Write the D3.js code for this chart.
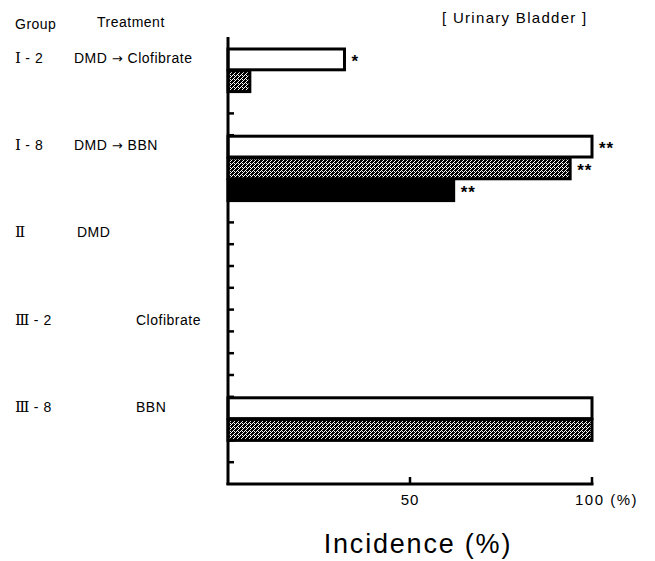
<!DOCTYPE html>
<html>
<head>
<meta charset="utf-8">
<script src="https://cdnjs.cloudflare.com/ajax/libs/d3/7.8.5/d3.min.js"></script>
<style>
  body { margin: 0; background: #fff; }
  svg { font-family: "Liberation Sans", Arial, sans-serif; }
</style>
</head>
<body>
<script>
// ----- data -----
const groupNum = ['Ⅰ', 'Ⅰ', 'Ⅱ', 'Ⅲ', 'Ⅲ'];
const groupSub = [' - 2', ' - 8', '', ' - 2', ' - 8'];
const treatments = ['DMD → Clofibrate', 'DMD → BBN', 'DMD', 'Clofibrate', 'BBN'];
const whiteVals = [32, 100, 0, 0, 100];
const greyVals  = [6, 94, 0, 0, 100];
const blackVals = [0, 62, 0, 0, 0];
const whiteSig = ['*', '**', '', '', ''];
const greySig  = ['', '**', '', '', ''];
const blackSig = ['', '**', '', '', ''];
const xTicks = [50, 100];

document.addEventListener('DOMContentLoaded', () => {
  const svg = d3.select('body').append('svg')
    .attr('width', 655).attr('height', 561);

  // grey dither pattern
  const pat = svg.append('defs').append('pattern')
    .attr('id', 'dither').attr('width', 4).attr('height', 4)
    .attr('patternUnits', 'userSpaceOnUse');
  pat.append('rect').attr('width', 4).attr('height', 4).attr('fill', '#fff');
  [[0,0],[2,0],[1,1],[3,1],[0,2],[2,2],[1,3],[3,3],[1,0],[3,2],[0,1]].forEach(p => {
    pat.append('rect').attr('x', p[0]).attr('y', p[1]).attr('width', 1).attr('height', 1).attr('fill', '#000');
  });

  const x = d3.scaleLinear().domain([0, 100]).range([228, 592]);
  const rows = d3.range(20);
  const y = d3.scaleBand().domain(rows).range([48, 484]).padding(0);
  const bw = y.bandwidth();

  const series = [
    { vals: whiteVals, sig: whiteSig, fill: '#fff', off: 0 },
    { vals: greyVals, sig: greySig, fill: 'url(#dither)', off: 1 },
    { vals: blackVals, sig: blackSig, fill: '#000', off: 2 }
  ];

  // ticks on left axis at row boundaries (bars cover some of them)
  svg.append('g').selectAll('line')
    .data(rows.slice(1))
    .join('line')
    .attr('x1', x(0)).attr('x2', x(0) + 6)
    .attr('y1', d => y(d)).attr('y2', d => y(d))
    .attr('stroke', '#000').attr('stroke-width', 2.5);

  // ----- bars -----
  series.forEach(s => {
    const items = groupNum.map((g, i) => ({ i, v: s.vals[i], sig: s.sig[i] })).filter(d => d.v > 0);
    svg.append('g').selectAll('rect')
      .data(items)
      .join('rect')
      .attr('x', x(0))
      .attr('y', d => y(d.i * 4 + s.off) + 1)
      .attr('width', d => x(d.v) - x(0))
      .attr('height', bw - 1)
      .attr('fill', s.fill)
      .attr('stroke', '#000')
      .attr('stroke-width', 3);
    svg.append('g').selectAll('text')
      .data(items.filter(d => d.sig))
      .join('text')
      .attr('x', d => x(d.v) + 7)
      .attr('y', d => y(d.i * 4 + s.off) + bw / 2 + 8)
      .attr('font-size', 17)
      .attr('font-weight', 'bold')
      .attr('letter-spacing', 1)
      .text(d => d.sig);
  });

  // ----- axes -----
  svg.append('line')
    .attr('x1', x(0)).attr('x2', x(0))
    .attr('y1', 37).attr('y2', 485)
    .attr('stroke', '#000').attr('stroke-width', 3);
  svg.append('line')
    .attr('x1', x(0) - 1.5).attr('x2', x(100) + 1.5)
    .attr('y1', 484).attr('y2', 484)
    .attr('stroke', '#000').attr('stroke-width', 3);
  svg.append('g').selectAll('line')
    .data(xTicks)
    .join('line')
    .attr('x1', d => x(d)).attr('x2', d => x(d))
    .attr('y1', 484).attr('y2', 477)
    .attr('stroke', '#000').attr('stroke-width', 2.5);
  svg.append('text').attr('x', x(50)).attr('y', 505)
    .attr('text-anchor', 'middle').attr('font-size', 15).attr('letter-spacing', 1).text('50');
  svg.append('text').attr('x', x(100) - 17).attr('y', 505)
    .attr('font-size', 15).attr('letter-spacing', 1.5).text('100 (%)');

  svg.append('text').attr('x', 418).attr('y', 553)
    .attr('text-anchor', 'middle').attr('font-size', 27).attr('letter-spacing', 1.8)
    .text('Incidence (%)');

  // ----- labels -----
  svg.append('text').attr('x', 15).attr('y', 29).attr('font-size', 14).attr('letter-spacing', 0.5).text('Group');
  svg.append('text').attr('x', 97).attr('y', 27).attr('font-size', 14).attr('letter-spacing', 0.5).text('Treatment');
  svg.append('text').attr('x', 442).attr('y', 23).attr('font-size', 15).attr('letter-spacing', 1.3).text('[ Urinary Bladder ]');

  const gl = svg.append('g').selectAll('text')
    .data(groupNum)
    .join('text')
    .attr('x', 15)
    .attr('y', (d, i) => y(i * 4) + bw / 2 + 4)
    .attr('font-size', 14);
  gl.append('tspan').attr('font-family', '"DejaVu Serif", serif').attr('font-size', 15).text(d => d);
  gl.append('tspan').attr('letter-spacing', 0.5).text((d, i) => groupSub[i]);

  const treatX = [74, 74, 77, 136, 136];
  const tl = svg.append('g').selectAll('text')
    .data(treatments)
    .join('text')
    .attr('x', (d, i) => treatX[i])
    .attr('y', (d, i) => y(i * 4) + bw / 2 + 4)
    .attr('font-size', 14)
    .attr('letter-spacing', 0.5);
  tl.each(function (d) {
    const parts = d.split('→');
    const t = d3.select(this);
    t.append('tspan').text(parts[0]);
    if (parts.length > 1) {
      t.append('tspan').attr('font-family', '"DejaVu Sans", sans-serif').attr('font-size', 13).text('→');
      t.append('tspan').text(parts[1]);
    }
  });
});
</script>
</body>
</html>
